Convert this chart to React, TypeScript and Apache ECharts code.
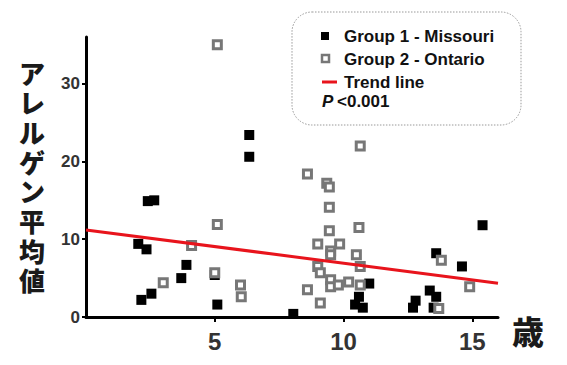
import React, { useEffect, useRef } from "react";
import * as echarts from "echarts";

const g1X = [2.03, 2.35, 2.4, 2.65, 2.15, 2.54, 3.7, 3.9, 5.0, 5.1, 6.34, 6.34, 8.05, 11.0, 10.6, 10.45, 10.75, 13.6, 13.35, 13.6, 12.8, 12.7, 13.5, 14.6, 15.4];
const g1Y = [9.4, 8.7, 14.9, 15.0, 2.2, 3.0, 5.0, 6.7, 5.4, 1.6, 23.4, 20.6, 0.4, 4.3, 2.6, 1.6, 1.2, 8.2, 3.4, 2.6, 2.1, 1.2, 1.2, 6.5, 11.8];
const g2X = [5.1, 5.1, 4.1, 3.0, 5.0, 6.0, 6.03, 8.6, 9.35, 9.45, 9.45, 9.45, 10.6, 10.65, 9.0, 9.85, 9.5, 9.5, 10.5, 10.65, 9.0, 9.1, 9.5, 9.5, 9.8, 10.2, 10.65, 8.6, 9.1, 13.8, 14.9, 13.7];
const g2Y = [35.0, 11.9, 9.2, 4.4, 5.7, 4.1, 2.6, 18.4, 17.2, 16.7, 14.1, 11.1, 11.5, 22.0, 9.4, 9.4, 8.5, 8.0, 8.0, 6.5, 6.5, 5.7, 4.8, 3.9, 4.1, 4.5, 4.1, 3.5, 1.8, 7.3, 3.9, 1.1];
const trendX = [0, 16];
const trendY = [11.2, 4.35];
const legendNames = ["Group 1 - Missouri", "Group 2 - Ontario", "Trend line"];
const pText = "<0.001";
const yTitle = "アレルゲン平均値";
const xTitle = "歳";

export default function App() {
  const ref = useRef<HTMLDivElement>(null);
  useEffect(() => {
    const chart = echarts.init(ref.current!, null, { renderer: "svg" });
    const font = "'Liberation Sans', Arial, sans-serif";
    const cjk = "'Noto Sans CJK JP', sans-serif";
    const outlined = (text: string, x: number, y: number, size: number, lh: number) => ({
      type: "text",
      x,
      y,
      style: {
        text,
        fill: "#1a1a1a",
        stroke: "#fff",
        lineWidth: 3,
        font: `900 ${size}px ${cjk}`,
        lineHeight: lh,
        align: "center",
        verticalAlign: "middle",
        shadowColor: "rgba(60,60,60,0.9)",
        shadowBlur: 1,
        shadowOffsetX: 2,
        shadowOffsetY: 2,
      },
    });
    const lx = 292, ly = 12;
    chart.setOption({
      animation: false,
      backgroundColor: "#fff",
      grid: { left: 86, right: 69, top: 37, bottom: 48 },
      xAxis: {
        type: "value",
        min: 0,
        max: 16,
        interval: 5,
        splitLine: { show: false },
        axisLine: { lineStyle: { color: "#000", width: 3 } },
        axisTick: { show: true, length: 5, lineStyle: { color: "#000", width: 2 } },
        axisLabel: {
          showMinLabel: false,
          showMaxLabel: false,
          margin: 12,
          color: "#333",
          fontSize: 24,
          fontWeight: "bold",
          fontFamily: font,
          formatter: (v: number) => (v === 0 ? "" : String(v)),
        },
      },
      yAxis: {
        type: "value",
        min: 0,
        max: 36,
        interval: 10,
        splitLine: { show: false },
        axisLine: { lineStyle: { color: "#000", width: 3 } },
        axisTick: { show: true, length: 4, lineStyle: { color: "#000", width: 2 } },
        axisLabel: {
          showMaxLabel: false,
          margin: 6,
          color: "#333",
          fontSize: 17,
          fontWeight: "bold",
          fontFamily: font,
        },
      },
      series: [
        {
          name: legendNames[0],
          type: "scatter",
          symbol: "rect",
          symbolSize: 10,
          itemStyle: { color: "#000", opacity: 1 },
          data: g1X.map((x, i) => [x, g1Y[i]]),
          z: 2,
        },
        {
          name: legendNames[1],
          type: "scatter",
          symbol: "rect",
          symbolSize: 8,
          itemStyle: { color: "#fff", borderColor: "#777", borderWidth: 3, opacity: 1 },
          data: g2X.map((x, i) => [x, g2Y[i]]),
          z: 3,
        },
        {
          name: legendNames[2],
          type: "line",
          showSymbol: false,
          symbol: "none",
          lineStyle: { color: "#e8141c", width: 3 },
          data: trendX.map((x, i) => [x, trendY[i]]),
          z: 4,
        },
      ],
      graphic: [
        {
          type: "rect",
          shape: { x: lx, y: ly, width: 229, height: 113, r: 20 },
          style: { fill: "#fff", stroke: "#999", lineWidth: 1, lineDash: [1.5, 1.5] },
        },
        { type: "rect", shape: { x: 321, y: 32, width: 8, height: 8 }, style: { fill: "#000" } },
        { type: "rect", shape: { x: 322, y: 55, width: 7, height: 7 }, style: { fill: "#fff", stroke: "#777", lineWidth: 2.5 } },
        { type: "line", shape: { x1: 322, y1: 82, x2: 337, y2: 82 }, style: { stroke: "#e8141c", lineWidth: 3 } },
        ...legendNames.map((n, i) => ({
          type: "text",
          x: 344,
          y: [36, 59, 82][i],
          style: { text: n, fill: "#111", font: `bold 17px ${font}`, verticalAlign: "middle" },
        })),
        {
          type: "text",
          x: 322,
          y: 101,
          style: { text: "P", fill: "#111", font: `italic bold 17px ${font}`, verticalAlign: "middle" },
        },
        {
          type: "text",
          x: 337,
          y: 101,
          style: { text: pText, fill: "#111", font: `bold 17px ${font}`, verticalAlign: "middle" },
        },
        outlined(yTitle.split("").join("\n"), 32, 176, 26, 29.7),
        outlined(xTitle, 528, 330, 32, 34),
      ],
    });
    return () => chart.dispose();
  }, []);
  return <div ref={ref} style={{ position: "fixed", left: 0, top: 0, width: 567, height: 365 }} />;
}
